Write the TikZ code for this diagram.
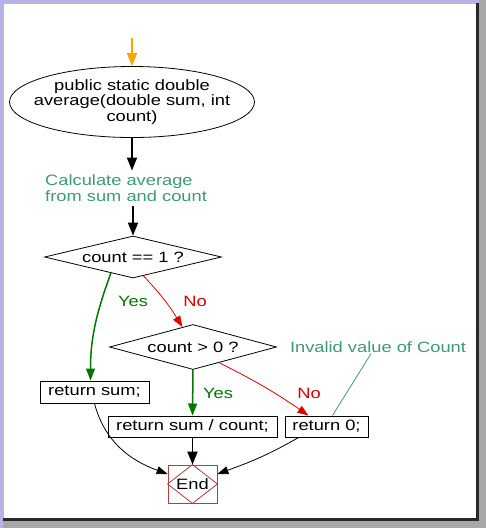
\documentclass[tikz,border=0pt]{standalone}
\usepackage{fontspec}
\setmainfont{Liberation Sans}[FakeStretch=1.22]
\usetikzlibrary{shapes.geometric,arrows.meta}
\definecolor{lavender}{RGB}{180,180,232}
\definecolor{framegray}{RGB}{168,168,168}
\definecolor{framedark}{RGB}{40,40,40}
\definecolor{notegreen}{RGB}{64,152,120}
\definecolor{yesgreen}{RGB}{0,120,0}
\definecolor{nored}{RGB}{225,0,0}
\definecolor{endred}{RGB}{180,60,60}
\definecolor{startorange}{RGB}{255,165,0}

\begin{document}
\begin{tikzpicture}[x=1pt,y=1pt,font=\fontsize{15}{15.5}\selectfont,
  box/.style={draw,line width=1pt,inner sep=0pt,minimum height=22pt},
  decision/.style={draw,diamond,inner sep=0pt,line width=0.8pt},
  note/.style={text=notegreen,inner sep=1pt},
  flow/.style={line width=1.8pt,-{Triangle[length=13pt,width=10pt]}},
  yesflow/.style={yesgreen,line width=1.5pt,-{Triangle[length=12pt,width=9pt]}},
  noflow/.style={nored,line width=0.8pt,-{Triangle[length=11pt,width=8pt]}},
  endflow/.style={line width=0.8pt,-{Triangle[length=11pt,width=8pt]}}]
  \useasboundingbox (0,0) rectangle (486,-528);
  % frame of the window
  \fill[framegray] (0,0) rectangle (486,-528);
  \fill[lavender] (0,0) rectangle (479,-3);
  \fill[lavender] (0,0) rectangle (3,-528);
  \fill[framegray!80] (3,-3) rectangle (476,-518);
  \fill[white] (4,-4) rectangle (476,-518);
  \fill[framedark] (476,-3) rectangle (479,-521);
  \fill[framedark] (3,-518) rectangle (479,-521);

  \coordinate (start) at (132,-38);
  \node[draw,ellipse,line width=0.8pt,inner xsep=-25pt,inner ysep=0pt,minimum width=245pt,minimum height=71pt,align=center]
    (avg) at (132,-102) {public static double\\average(double sum, int\\count)};
  \node[note,anchor=west,align=left] (calc) at (44,-188) {Calculate average\\from sum and count};
  \node[decision,aspect=4.2,minimum width=177pt,minimum height=42pt] (d1) at (133,-257) {count == 1 ?};
  \node[decision,aspect=3.7,minimum width=167pt,minimum height=45pt] (d2) at (193,-347) {count > 0 ?};
  \node[box,minimum width=109pt] (rsum) at (94.5,-392) {return sum;};
  \node[box,minimum width=169pt,minimum height=21pt] (rdiv) at (192.5,-426.5) {return sum / count;};
  \node[box,minimum width=83pt,minimum height=21pt] (rzero) at (326.5,-426.5) {return 0;};
  \node[draw=endred,line width=0.8pt,inner sep=0pt,minimum width=49pt,minimum height=38pt] (end) at (192.5,-484) {End};
  \draw[endred,line width=0.8pt] (end.north) -- (end.east) -- (end.south) -- (end.west) -- cycle;
  \node[note] (invalid) at (378,-347) {Invalid value of Count};

  \node[text=yesgreen] (yes1) at (133,-301) {Yes};
  \node[text=nored] (no1) at (195,-301) {No};
  \node[text=yesgreen] (yes2) at (218,-393) {Yes};
  \node[text=nored] (no2) at (309,-393) {No};

  \draw[flow,startorange] (start) -- (avg.north);
  \draw[flow] (avg.south) -- ([yshift=3pt]avg.south |- calc.north);
  \draw[flow] ([yshift=-4pt]d1.north |- calc.south) -- (d1.north);
  \draw[yesflow] (d1.216) to[out=-110,in=90] ([xshift=-4pt]rsum.north);
  \draw[noflow] (d1.-61) to[bend left=6] (d2.118);
  \draw[yesflow] (d2.south) -- (rdiv.north);
  \draw[noflow] (d2.-31) to[bend left=4] ([xshift=-18pt]rzero.north);
  \draw[notegreen,line width=0.8pt] ([xshift=-7pt]invalid.south) -- ([xshift=6pt]rzero.north);
  \draw[endflow] (rsum.south) to[out=-75,in=160] ([yshift=10pt]end.west);
  \draw[flow] (rdiv.south) -- (end.north);
  \draw[endflow] ([xshift=-28pt]rzero.south) to[out=-150,in=20] ([yshift=10pt]end.east);
\end{tikzpicture}
\end{document}
